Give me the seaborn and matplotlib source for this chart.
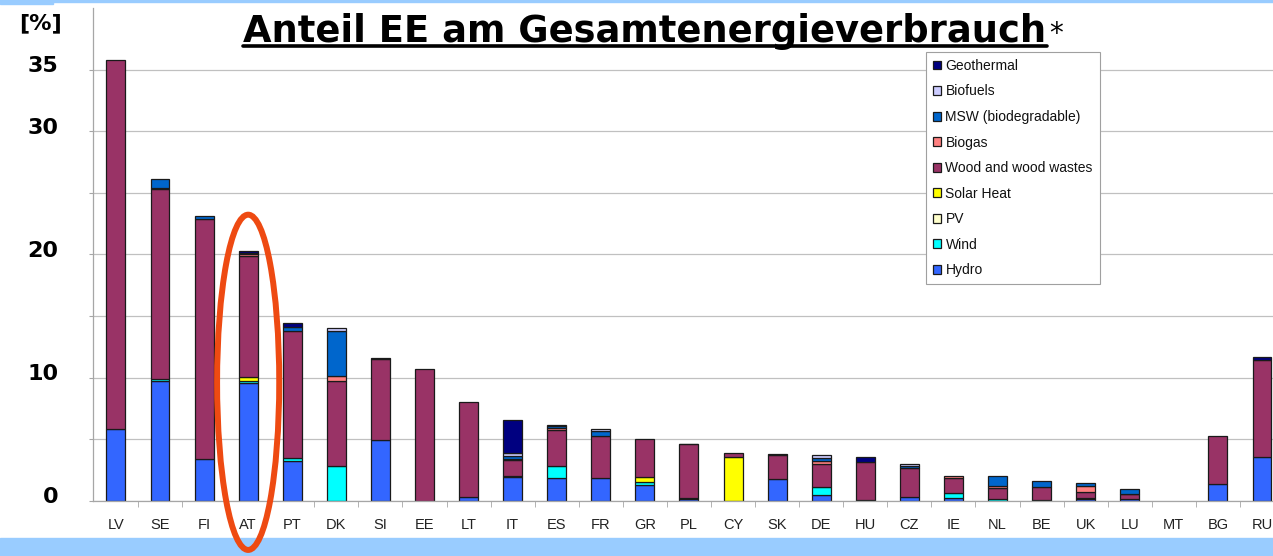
import numpy as np
import pandas as pd
import matplotlib
matplotlib.use("Agg")
import matplotlib.pyplot as plt
import matplotlib.transforms as mtransforms
import seaborn as sns
from matplotlib.patches import Ellipse, Rectangle
from matplotlib.lines import Line2D

# ---------------- data ----------------
countries = ["LV", "SE", "FI", "AT", "PT", "DK", "SI", "EE", "LT", "IT", "ES", "FR", "GR", "PL",
             "CY", "SK", "DE", "HU", "CZ", "IE", "NL", "BE", "UK", "LU", "MT", "BG", "RU"]

hydro      = [5.85, 9.75, 3.4, 9.55, 3.25, 0.0, 4.93, 0.0, 0.3, 1.95, 1.9, 1.84, 1.27, 0.19,
              0.0, 1.82, 0.46, 0.05, 0.35, 0.27, 0.0, 0.05, 0.2, 0.2, 0.0, 1.36, 3.55]
wind       = [0.0, 0.13, 0.0, 0.2, 0.27, 2.85, 0.0, 0.0, 0.0, 0.05, 0.95, 0.0, 0.3, 0.02,
              0.0, 0.0, 0.65, 0.0, 0.0, 0.35, 0.2, 0.05, 0.05, 0.0, 0.0, 0.0, 0.0]
pv         = [0.0] * 27
solar_heat = [0.0, 0.0, 0.0, 0.3, 0.0, 0.0, 0.0, 0.0, 0.0, 0.0, 0.0, 0.0, 0.38, 0.0,
              3.6, 0.0, 0.0, 0.0, 0.0, 0.0, 0.0, 0.0, 0.0, 0.0, 0.0, 0.0, 0.0]
wood       = [29.9, 15.4, 19.5, 9.8, 10.3, 6.9, 6.6, 10.7, 7.7, 1.3, 2.9, 3.45, 3.05, 4.4,
              0.28, 1.88, 1.87, 3.1, 2.35, 1.22, 0.83, 1.05, 0.45, 0.35, 0.0, 3.95, 7.9]
biogas     = [0.0, 0.1, 0.0, 0.15, 0.0, 0.43, 0.0, 0.0, 0.0, 0.12, 0.2, 0.0, 0.0, 0.03,
              0.0, 0.0, 0.27, 0.0, 0.0, 0.19, 0.2, 0.0, 0.55, 0.05, 0.0, 0.0, 0.0]
msw        = [0.0, 0.75, 0.2, 0.15, 0.27, 3.6, 0.0, 0.0, 0.0, 0.22, 0.1, 0.35, 0.0, 0.0,
              0.0, 0.0, 0.2, 0.0, 0.12, 0.0, 0.8, 0.5, 0.2, 0.4, 0.0, 0.0, 0.0]
biofuels   = [0.0, 0.0, 0.0, 0.0, 0.0, 0.27, 0.0, 0.0, 0.0, 0.22, 0.15, 0.2, 0.0, 0.0,
              0.0, 0.0, 0.3, 0.0, 0.2, 0.0, 0.0, 0.0, 0.0, 0.0, 0.0, 0.0, 0.0]
geothermal = [0.0, 0.0, 0.0, 0.15, 0.37, 0.0, 0.05, 0.0, 0.0, 2.7, 0.0, 0.0, 0.0, 0.0,
              0.0, 0.15, 0.0, 0.45, 0.0, 0.0, 0.0, 0.0, 0.0, 0.0, 0.0, 0.0, 0.27]

sources = ["Geothermal", "Biofuels", "MSW (biodegradable)", "Biogas", "Wood and wood wastes",
           "Solar Heat", "PV", "Wind", "Hydro"]
source_colors = ["#000080", "#CCCCFF", "#0066CC", "#FF8080", "#993366",
                 "#FFFF00", "#FFFFCC", "#00FFFF", "#3366FF"]

title_text = "Anteil EE am Gesamtenergieverbrauch"
unit_label = "[%]"
highlight_country = "AT"
y_ticks = [0, 5, 10, 15, 20, 25, 30, 35]
y_tick_labels = ["0", "", "10", "", "20", "", "30", "35"]

series = {"Geothermal": geothermal, "Biofuels": biofuels, "MSW (biodegradable)": msw,
          "Biogas": biogas, "Wood and wood wastes": wood, "Solar Heat": solar_heat,
          "PV": pv, "Wind": wind, "Hydro": hydro}

rows = []
for src in sources:
    for c, v in zip(countries, series[src]):
        rows.append((c, src, v))
df = pd.DataFrame(rows, columns=["country", "source", "share"])
df["country"] = pd.Categorical(df["country"], categories=countries, ordered=True)

# ---------------- figure ----------------
sns.set_style("white")
plt.rcParams["font.family"] = ["DejaVu Sans"]
plt.rcParams["text.color"] = "black"
plt.rcParams["ytick.labelcolor"] = "black"

W, H = 1273, 556
fig = plt.figure(figsize=(W / 100, H / 100), dpi=100)
ax = fig.add_axes([93 / W, 1 - 501 / H, 1 - 93 / W, (501 - 8) / H])

sns.histplot(data=df, x="country", weights="share", hue="source", hue_order=sources,
             palette=dict(zip(sources, source_colors)), multiple="stack", discrete=True,
             shrink=0.43, alpha=1, edgecolor="#1a1a1a", linewidth=0.9, ax=ax, legend=True)

# hide outlines of empty (zero-height) segments
for p in ax.patches:
    if abs(p.get_height()) < 1e-9:
        p.set_linewidth(0)

ax.set_xlabel("")
ax.set_ylabel("")

# y axis
ax.set_yticks(y_ticks)
ax.set_yticklabels(y_tick_labels, fontsize=16, fontweight="bold", family="DejaVu Sans",
                   color="black")
ax.tick_params(axis="y", length=3, color="#A6A6A6", pad=22, left=True)
ax.yaxis.grid(True, color="#C0C0C0", lw=0.9)
ax.xaxis.grid(False)
ax.set_axisbelow(True)

# x axis
ax.set_xticks(range(len(countries)))
ax.set_xticklabels(countries, fontsize=10.5, family="Liberation Sans", color="#222222")
ax.set_xticks(np.arange(0.5, len(countries) - 1, 1), minor=True)
ax.tick_params(axis="x", which="major", length=0, pad=12)
ax.tick_params(axis="x", which="minor", length=4, color="#A6A6A6", bottom=True, direction="out")

for s in ["top", "right"]:
    ax.spines[s].set_visible(False)
for s in ["left", "bottom"]:
    ax.spines[s].set_color("#A6A6A6")
    ax.spines[s].set_linewidth(0.9)

# legend
sns.move_legend(ax, "upper left", bbox_to_anchor=(926 / W, 1 - 52 / H),
                bbox_transform=fig.transFigure, title=None, frameon=True, fancybox=False,
                edgecolor="#A0A0A0", prop={"family": "Liberation Sans", "size": 10},
                handlelength=0.6, handleheight=0.6, handletextpad=0.3, labelspacing=0.83,
                borderpad=0.5, borderaxespad=0)
leg = ax.get_legend()
leg.get_frame().set_linewidth(0.8)
leg.get_frame().set_alpha(1)
for txt in leg.get_texts():
    txt.set_color("#111111")

# highlight ellipse around AT
hx = countries.index(highlight_country)
ax.add_patch(Ellipse((hx, 9.63), width=1.41, height=27.2, fill=False,
                     edgecolor="#EE4A12", lw=4.3, clip_on=False, zorder=10))
ax.set_xlim(-0.52, 26.25)
ax.set_ylim(0, 40)

# decorative bands
fig.add_artist(Rectangle((0, 0), 1, 18 / H, transform=fig.transFigure,
                         color="#99CCFF", zorder=-1))
fig.add_artist(Rectangle((0, 1 - 2 / H), 1, 2 / H, transform=fig.transFigure,
                         color="#99CCFF", zorder=-1))
fig.add_artist(Rectangle((0, 1 - 4 / H), 53 / W, 4 / H, transform=fig.transFigure,
                         color="#99CCFF", zorder=-1))

# texts
fig.text(41 / W, 1 - 23 / H, unit_label, ha="center", va="center",
         fontsize=16, fontweight="bold", color="black")
t = fig.text(645 / W, 1 - 42 / H, title_text, ha="center", va="baseline",
             fontsize=26.6, fontweight="bold", color="black")
fig.canvas.draw()

# y tick labels sit slightly above their gridlines in the original
shift = mtransforms.ScaledTranslation(0, 4 / 72, fig.dpi_scale_trans)
for lbl in ax.get_yticklabels():
    lbl.set_transform(lbl.get_transform() + shift)

bb = t.get_window_extent(fig.canvas.get_renderer())
fig.add_artist(Line2D([bb.x0 / W, bb.x1 / W], [1 - 46 / H, 1 - 46 / H],
                      transform=fig.transFigure, color="black", lw=2.6))
fig.text((bb.x1 + 3) / W, 1 - 42 / H, "*", ha="left", va="baseline", fontsize=20,
         color="black")

fig.savefig("out.png", dpi=100)
